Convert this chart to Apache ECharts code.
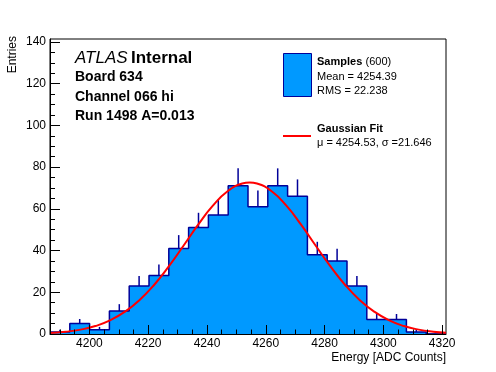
<!DOCTYPE html>
<html><head><meta charset="utf-8">
<script src="https://cdn.jsdelivr.net/npm/echarts@6/dist/echarts.min.js"></script>
<style>html,body{margin:0;padding:0;background:#fff}#c{width:496px;height:372px}</style>
</head><body><div id="c"></div>
<script>
// ---- data ----
const binLow = 4186.6;
const binHigh = 4321.3;
const counts = [1, 5, 2, 11, 23, 28, 41, 51, 57, 71, 61, 71, 66, 38, 35, 23, 7, 7, 1, 0];
const errors = [1, 2.2, 1.4, 3.3, 4.8, 5.3, 6.4, 7.1, 7.5, 8.4, 7.8, 8.4, 8.1, 6.2, 5.9, 4.8, 2.6, 2.6, 1, 0];
const fitX = [4186.6, 4192, 4197, 4202, 4207, 4212, 4217, 4222, 4227, 4232, 4237, 4242, 4247, 4252, 4254.5, 4257, 4262, 4267, 4272, 4277, 4282, 4287, 4292, 4297, 4302, 4307, 4312, 4317, 4321.3];
const fitY = [0.5, 1.1, 2.1, 3.8, 6.5, 10.6, 16.2, 23.5, 32.4, 42.3, 52.4, 61.5, 68.4, 72.1, 72.6, 72.1, 68.4, 61.5, 52.4, 42.3, 32.4, 23.5, 16.2, 10.6, 6.5, 3.8, 2.1, 1.1, 0.6];
const xMajorTicks = [4200, 4220, 4240, 4260, 4280, 4300, 4320];
const xMinorTicks = [4190, 4195, 4205, 4210, 4215, 4225, 4230, 4235, 4245, 4250, 4255, 4265, 4270, 4275, 4285, 4290, 4295, 4305, 4310, 4315];
const yMajorTicks = [0, 20, 40, 60, 80, 100, 120, 140];
const yMinorTicks = [5, 10, 15, 25, 30, 35, 45, 50, 55, 65, 70, 75, 85, 90, 95, 105, 110, 115, 125, 130, 135];
const yMax = 141.4;

// ---- build ----
const nb = counts.length;
const bw = (binHigh - binLow) / nb;
const edges = [];
for (let i = 0; i <= nb; i++) edges.push(binLow + i * bw);
const stepData = [];
for (let i = 0; i < nb; i++) stepData.push([edges[i], counts[i]]);
stepData.push([edges[nb], counts[nb - 1]]);
const errData = [];
for (let i = 0; i < nb; i++) if (counts[i] > 0) errData.push([(edges[i] + edges[i + 1]) / 2, counts[i], errors[i]]);
const fitData = fitX.map((x, i) => [x, fitY[i]]);

const FF = '"Liberation Sans", Arial, Helvetica, sans-serif';
const chart = echarts.init(document.getElementById('c'), null, {renderer: 'canvas'});
chart.setOption({
  animation: false,
  backgroundColor: '#fff',
  grid: {left: 50, right: 50, top: 39, bottom: 38, show: true, borderColor: '#000', borderWidth: 1, backgroundColor: 'transparent'},
  xAxis: [{
    type: 'value', min: binLow, max: binHigh, splitNumber: 7, position: 'bottom', z: 10,
    axisLine: {show: true, onZero: false, lineStyle: {color: '#000', width: 1}},
    axisTick: {show: true, inside: true, length: 9, customValues: xMajorTicks, lineStyle: {color: '#000'}},
    axisLabel: {show: true, customValues: xMajorTicks, color: '#000', fontSize: 12, fontFamily: FF, margin: 4, formatter: v => String(v)},
    splitLine: {show: false}
  }, {
    type: 'value', min: binLow, max: binHigh, splitNumber: 7, position: 'bottom', z: 10,
    axisLine: {show: false},
    axisTick: {show: true, inside: true, length: 4.5, customValues: xMinorTicks, lineStyle: {color: '#000'}},
    axisLabel: {show: false},
    splitLine: {show: false}
  }],
  yAxis: [{
    type: 'value', min: 0, max: yMax, position: 'left', z: 10,
    axisLine: {show: true, onZero: false, lineStyle: {color: '#000', width: 1}},
    axisTick: {show: true, inside: true, length: 10, customValues: yMajorTicks, lineStyle: {color: '#000'}},
    axisLabel: {customValues: yMajorTicks, color: '#000', fontSize: 12, fontFamily: FF, margin: 4, formatter: v => String(v)},
    splitLine: {show: false}
  }, {
    type: 'value', min: 0, max: yMax, position: 'left', z: 10,
    axisLine: {show: false},
    axisTick: {show: true, inside: true, length: 5, customValues: yMinorTicks, lineStyle: {color: '#000'}},
    axisLabel: {show: false},
    splitLine: {show: false}
  }],
  series: [{
    name: 'Samples', type: 'line', step: 'end', xAxisIndex: 0, yAxisIndex: 0, data: stepData, symbol: 'none', z: 2,
    lineStyle: {color: '#000099', width: 1.5},
    areaStyle: {color: '#0099ff', opacity: 1}
  }, {
    name: 'errors', type: 'custom', xAxisIndex: 0, yAxisIndex: 0, data: errData, z: 3,
    renderItem: (params, api) => {
      const x = api.value(0), y = api.value(1), e = api.value(2);
      const p0 = api.coord([x, y]), p1 = api.coord([x, y + e]);
      return {type: 'line', shape: {x1: p0[0], y1: p0[1], x2: p1[0], y2: p1[1]}, style: {stroke: '#000099', lineWidth: 1.5}};
    }
  }, {
    name: 'Gaussian Fit', type: 'line', xAxisIndex: 0, yAxisIndex: 0, data: fitData, symbol: 'none', smooth: true, z: 4,
    lineStyle: {color: '#ff0000', width: 2}
  }],
  graphic: [
    {type: 'text', x: 75, y: 58, style: {text: '{i|ATLAS} {b|Internal}', verticalAlign: 'middle', align: 'left',
      rich: {i: {fontStyle: 'italic', fontSize: 17, fontFamily: FF, fill: '#000'}, b: {fontWeight: 'bold', fontSize: 17, fontFamily: FF, fill: '#000'}}}},
    {type: 'text', x: 75, y: 77, style: {text: 'Board 634', font: 'bold 14px ' + FF, fill: '#000', verticalAlign: 'middle'}},
    {type: 'text', x: 75, y: 97, style: {text: 'Channel 066 hi', font: 'bold 14px ' + FF, fill: '#000', verticalAlign: 'middle'}},
    {type: 'text', x: 75, y: 116, style: {text: 'Run 1498 A=0.013', font: 'bold 14px ' + FF, fill: '#000', verticalAlign: 'middle'}},
    {type: 'rect', shape: {x: 283.5, y: 53.5, width: 28, height: 43}, style: {fill: '#0099ff', stroke: '#000099', lineWidth: 1}},
    {type: 'text', x: 317, y: 62, style: {text: '{b|Samples} {n|(600)}', verticalAlign: 'middle',
      rich: {b: {fontWeight: 'bold', fontSize: 11, fontFamily: FF, fill: '#000'}, n: {fontSize: 11, fontFamily: FF, fill: '#000'}}}},
    {type: 'text', x: 317, y: 77, style: {text: 'Mean = 4254.39', font: '11px ' + FF, fill: '#000', verticalAlign: 'middle'}},
    {type: 'text', x: 317, y: 91, style: {text: 'RMS = 22.238', font: '11px ' + FF, fill: '#000', verticalAlign: 'middle'}},
    {type: 'line', shape: {x1: 283, y1: 136, x2: 311, y2: 136}, style: {stroke: '#ff0000', lineWidth: 2}},
    {type: 'text', x: 317, y: 129, style: {text: 'Gaussian Fit', font: 'bold 11px ' + FF, fill: '#000', verticalAlign: 'middle'}},
    {type: 'text', x: 317, y: 143, style: {text: 'μ = 4254.53, σ =21.646', font: '11px ' + FF, fill: '#000', verticalAlign: 'middle'}},
    {type: 'text', x: 446, y: 358, style: {text: 'Energy [ADC Counts]', font: '12px ' + FF, fill: '#000', align: 'right', verticalAlign: 'middle'}},
    {type: 'text', x: 13, y: 36, rotation: Math.PI / 2, style: {text: 'Entries', font: '12px ' + FF, fill: '#000', align: 'right', verticalAlign: 'middle'}}
  ]
});
</script></body></html>
